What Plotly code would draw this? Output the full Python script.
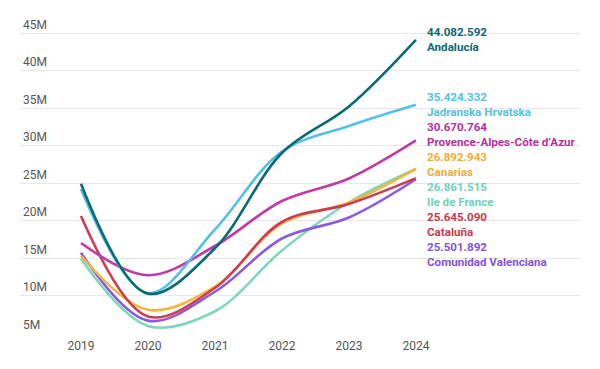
import plotly.graph_objects as go

years = [2019, 2020, 2021, 2022, 2023, 2024]

andalucia = [24_900_000, 10_250_000, 16_300_000, 29_000_000, 35_200_000, 44_082_592]
jadranska = [24_200_000, 10_300_000, 18_800_000, 29_200_000, 32_600_000, 35_424_332]
provence = [17_000_000, 12_700_000, 16_600_000, 22_600_000, 25_600_000, 30_670_764]
canarias = [15_300_000, 8_100_000, 11_200_000, 19_600_000, 22_400_000, 26_892_943]
ile_de_france = [14_900_000, 5_950_000, 7_900_000, 16_000_000, 22_400_000, 26_861_515]
cataluna = [20_600_000, 7_200_000, 11_000_000, 19_800_000, 22_200_000, 25_645_090]
valenciana = [15_700_000, 6_650_000, 10_500_000, 17_600_000, 20_400_000, 25_501_892]

series_names = ["Andalucía", "Jadranska Hrvatska", "Provence-Alpes-Côte d’Azur",
                "Canarias", "Ile de France", "Cataluña", "Comunidad Valenciana"]
series_values = [andalucia, jadranska, provence, canarias, ile_de_france, cataluna, valenciana]
colors = ["#0b6a72", "#55bfe4", "#c13aa6", "#f5b43a", "#7dd6bf", "#cd3d52", "#8b5ade"]
label_colors = ["#0b6a72", "#55bfe4", "#b8309e", "#f0ad33", "#72d0b8", "#c83a4e", "#8452da"]

ytick_vals = [5e6, 10e6, 15e6, 20e6, 25e6, 30e6, 35e6, 40e6, 45e6]
ytick_text = ["5M", "10M", "15M", "20M", "25M", "30M", "35M", "40M", "45M"]

# label vertical centres (paper coords) for the right-hand labels
label_pos = [0.9059, 0.7052, 0.6127, 0.5201, 0.4275, 0.3349, 0.2423]

fig = go.Figure()
draw_order = [4, 6, 3, 5, 2, 1, 0]
for i in draw_order:
    fig.add_trace(go.Scatter(
        x=years, y=series_values[i], mode="lines", name=series_names[i],
        line=dict(color=colors[i], width=2.6, shape="spline", smoothing=1.0),
        hoverinfo="skip", showlegend=False))

for i, name in enumerate(series_names):
    v = f"{series_values[i][-1]:,}".replace(",", ".")
    fig.add_annotation(
        x=years[-1], xref="x", y=label_pos[i], yref="paper",
        xanchor="left", yanchor="middle", xshift=9, align="left",
        text=f"<b>{v}</b><br><b>{name}</b>", showarrow=False,
        font=dict(family="Roboto", size=11.6, color=label_colors[i]))

fig.update_layout(
    width=592, height=361,
    margin=dict(l=12, r=20, t=1, b=36),
    plot_bgcolor="white", paper_bgcolor="white",
    font=dict(family="Roboto", size=12, color="#555555"),
    xaxis=dict(range=[2018.09, 2026.45], tickvals=years, ticktext=[str(y) for y in years],
               showgrid=False, zeroline=False, showline=False, ticks="",
               ticklabelstandoff=4,
               tickfont=dict(size=12, color="#555555")),
    yaxis=dict(range=[5e6, 48.2e6], tickvals=ytick_vals, ticktext=ytick_text,
               ticklabelposition="inside top", showgrid=True, gridcolor="#e8e8e8",
               gridwidth=1, zeroline=False, showline=False, ticks="",
               tickfont=dict(size=12, color="#555555")),
)

fig.write_html("out.html")
